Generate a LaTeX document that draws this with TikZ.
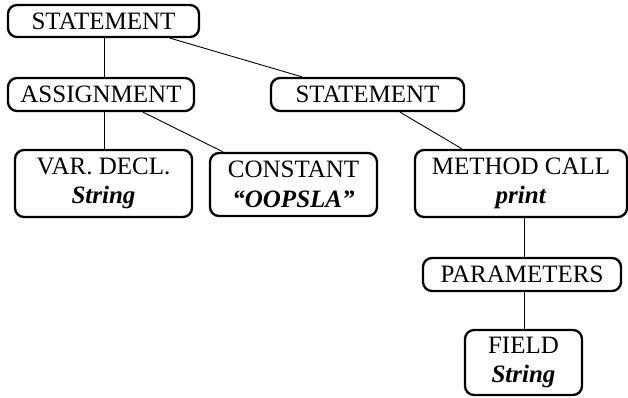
\documentclass[tikz,border=0pt]{standalone}
\usepackage{fontspec}
\setmainfont{Liberation Serif}
\begin{document}
\begin{tikzpicture}[x=1pt,y=-1pt,
  box/.style={draw, line width=2.3pt, rounded corners=9pt, inner sep=0pt,
    align=center, font=\fontsize{25}{29.5}\selectfont},
  link/.style={line width=0.9pt}]
\useasboundingbox (0,0) rectangle (628,398);
\node[box, minimum width=191pt, minimum height=32pt] (s1) at (103.5,21) {STATEMENT};
\node[box, minimum width=186pt, minimum height=33pt] (asg) at (101,94.5) {ASSIGNMENT};
\node[box, minimum width=193pt, minimum height=33pt] (s2) at (367.5,94.5) {STATEMENT};
\node[box, minimum width=177pt, minimum height=67pt] (var) at (103.5,183.5) {VAR. DECL.\\\textbf{\textit{String}}};
\node[box, minimum width=167pt, minimum height=63pt] (con) at (293.5,184.5) {CONSTANT\\\textbf{\textit{``OOPSLA''}}};
\node[box, minimum width=212pt, minimum height=67pt] (mc) at (521,183.5) {METHOD CALL\\\textbf{\textit{print}}};
\node[box, minimum width=198pt, minimum height=33pt] (par) at (522,274.5) {PARAMETERS};
\node[box, minimum width=117pt, minimum height=65pt] (fld) at (523.5,362.5) {FIELD\\\textbf{\textit{String}}};
% connectors
\draw[link] (s1.south -| 104,0) -- (asg.north -| 104,0);
\draw[link] (s1.south -| 170,0) -- (s2.north -| 302,0);
\draw[link] (asg.south -| 104,0) -- (var.north -| 104,0);
\draw[link] (asg.south -| 143,0) -- (con.north -| 223,0);
\draw[link] (s2.south -| 400,0) -- (mc.north -| 462,0);
\draw[link] (mc.south -| 524,0) -- (par.north -| 524,0);
\draw[link] (par.south -| 524,0) -- (fld.north -| 524,0);
\end{tikzpicture}
\end{document}
